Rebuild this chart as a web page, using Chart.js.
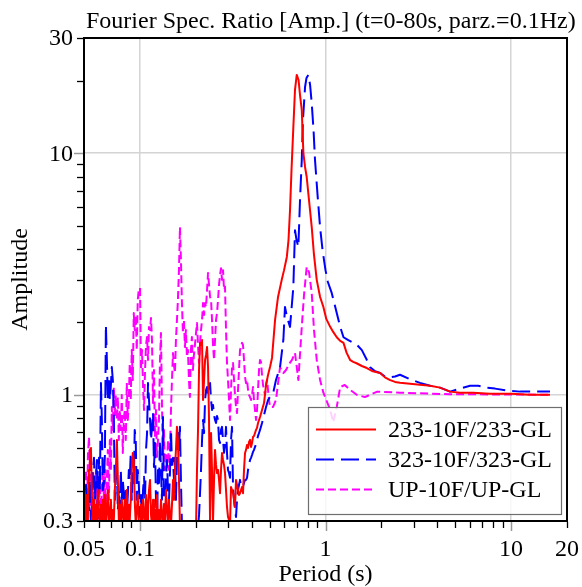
<!DOCTYPE html>
<html><head><meta charset="utf-8">
<script src="https://cdn.jsdelivr.net/npm/chart.js@4/dist/chart.umd.min.js"></script>
<style>html,body{margin:0;padding:0;background:#fff;overflow:hidden}canvas{display:block}</style>
</head><body>
<canvas id="c" width="582" height="587"></canvas>
<script>
// ---- data (period [s], amplitude ratio) ----
const chartTitle = 'Fourier Spec. Ratio [Amp.] (t=0-80s, parz.=0.1Hz)';
const xAxisTitle = 'Period (s)';
const yAxisTitle = 'Amplitude';
const seriesNames = ['233-10F/233-GL', '323-10F/323-GL', 'UP-10F/UP-GL'];
const xTickLabels = [0.05, 0.1, 1, 10, 20];
const yTickLabels = [0.3, 1, 10, 30];
const xMajor = [0.1, 1, 10];
const yMajor = [1, 10];
const xMinor = [0.05,0.06,0.07,0.08,0.09,0.2,0.3,0.4,0.5,0.6,0.7,0.8,0.9,2,3,4,5,6,7,8,9,20];
const yMinor = [0.3,0.4,0.5,0.6,0.7,0.8,0.9,2,3,4,5,6,7,8,9,20,30];

const ratio233 = [
[0.0500,0.333],[0.0506,0.289],[0.0513,0.384],[0.0519,0.303],[0.0525,0.367],[0.0532,0.488],[0.0538,0.591],[0.0545,0.602],[0.0552,0.367],[0.0559,0.289],
[0.0566,0.367],[0.0573,0.303],[0.0580,0.350],[0.0587,0.289],[0.0594,0.403],[0.0602,0.318],[0.0609,0.289],[0.0617,0.350],[0.0624,0.303],[0.0632,0.367],
[0.0640,0.289],[0.0648,0.384],[0.0656,0.289],[0.0664,0.333],[0.0672,0.403],[0.0681,0.289],[0.0689,0.318],[0.0698,0.367],[0.0706,0.289],[0.0715,0.333],
[0.0724,0.303],[0.0733,0.403],[0.0742,0.488],[0.0752,0.650],[0.0761,0.444],[0.0770,0.303],[0.0780,0.350],[0.0789,0.289],[0.0799,0.367],[0.0809,0.318],
[0.0819,0.289],[0.0829,0.367],[0.0840,0.303],[0.0850,0.403],[0.0861,0.289],[0.0872,0.350],[0.0882,0.303],[0.0893,0.367],[0.0904,0.488],[0.0916,0.574],
[0.0927,0.537],[0.0938,0.367],[0.0950,0.289],[0.0962,0.333],[0.0974,0.384],[0.0986,0.303],[0.1002,0.289],[0.1014,0.350],[0.1027,0.289],[0.1040,0.367],
[0.1053,0.318],[0.1066,0.289],[0.1079,0.384],[0.1093,0.303],[0.1106,0.350],[0.1120,0.403],[0.1134,0.444],[0.1148,0.318],[0.1162,0.289],[0.1177,0.367],
[0.1191,0.303],[0.1206,0.333],[0.1221,0.289],[0.1236,0.384],[0.1252,0.303],[0.1267,0.333],[0.1283,0.289],[0.1299,0.367],[0.1315,0.318],[0.1332,0.289],
[0.1348,0.350],[0.1365,0.303],[0.1382,0.403],[0.1400,0.333],[0.1417,0.289],[0.1435,0.367],[0.1452,0.318],[0.1471,0.289],[0.1489,0.350],[0.1508,0.444],
[0.1526,0.367],[0.1545,0.488],[0.1564,0.591],[0.1584,0.736],[0.1603,0.650],[0.1624,0.444],[0.1644,0.289],[0.1664,0.27],
[0.1860,0.25],[0.1980,0.27],[0.2006,0.276],[0.2031,0.488],[0.2057,0.715],[0.2083,1.266],[0.2109,1.64],[0.2135,1.607],[0.2162,1.686],[0.2189,0.951],
[0.2217,1.151],[0.2245,1.393],[0.2272,1.461],[0.2301,1.577],[0.2329,1.303],[0.2358,0.786],[0.2388,0.294],[0.2418,0.694],[0.2447,0.488],[0.2478,0.303],
[0.2509,0.444],[0.2540,0.591],[0.2572,0.512],[0.2604,0.474],[0.2636,0.488],[0.2669,0.444],[0.2702,0.391],[0.2736,0.488],[0.2770,0.574],[0.2805,0.537],
[0.2840,0.512],[0.2875,0.474],[0.2911,0.403],[0.2947,0.343],[0.2984,0.312],[0.3021,0.303],[0.3059,0.289],[0.3097,0.415],[0.3136,0.403],[0.3175,0.391],
[0.3215,0.367],[0.3255,0.343],[0.3296,0.444],[0.3337,0.423],[0.3378,0.403],[0.3420,0.384],[0.3463,0.391],[0.3506,0.403],[0.3550,0.415],[0.3594,0.391],
[0.3639,0.488],[0.3685,0.574],[0.3731,0.591],[0.3778,0.619],[0.3825,0.602],[0.3873,0.638],[0.3921,0.650],[0.3970,0.608],[0.4019,0.631],[0.4069,0.668],
[0.4120,0.675],[0.4171,0.694],[0.4224,0.715],[0.4276,0.729],[0.4330,0.764],[0.4384,0.786],[0.4439,0.809],[0.4550,0.865],[0.4665,0.924],[0.4782,1.097],
[0.4902,1.207],[0.5025,1.303],[0.515,1.42],[0.535,2.04],[0.555,2.54],[0.581,2.99],[0.598,3.28],[0.619,3.72],[0.632,4.37],[0.644,5.82],
[0.656,8.53],[0.671,12.8],[0.685,18.3],[0.700,21.1],[0.716,20.1],[0.729,17.4],[0.745,15.1],[0.760,10.0],[0.776,8.77],[0.792,7.97],
[0.815,6.40],[0.843,4.94],[0.867,3.79],[0.897,2.99],[0.935,2.54],[0.974,2.31],[1.01,2.06],[1.06,1.91],[1.10,1.82],[1.15,1.73],
[1.20,1.67],[1.25,1.64],[1.30,1.49],[1.36,1.39],[1.41,1.367],[1.47,1.35],[1.57,1.315],[1.67,1.29],[1.80,1.25],[1.97,1.23],
[2.09,1.18],[2.23,1.15],[2.37,1.13],[2.52,1.12],[2.85,1.11],[3.23,1.10],[3.66,1.09],[4.14,1.07],[4.41,1.05],[4.69,1.03],
[5.31,1.02],[6.24,1.02],[7.70,1.01],[10.0,1.01],[12.6,1.0],[16.2,1.0]
];

const ratio323 = [
[0.0500,0.367],[0.0506,0.303],[0.0513,0.423],[0.0519,0.289],[0.0525,0.384],[0.0532,0.333],[0.0538,0.444],[0.0545,0.289],[0.0552,0.367],[0.0559,0.488],
[0.0566,0.548],[0.0573,0.367],[0.0580,0.444],[0.0587,0.537],[0.0594,0.303],[0.0602,0.548],[0.0609,0.403],[0.0617,1.118],[0.0624,0.786],[0.0632,0.403],
[0.0640,0.431],[0.0648,0.563],[0.0656,1.945],[0.0664,1.393],[0.0672,0.951],[0.0681,1.184],[0.0689,0.951],[0.0698,1.097],[0.0706,1.303],[0.0715,1.151],
[0.0724,0.809],[0.0733,0.367],[0.0742,0.444],[0.0752,0.474],[0.0761,0.333],[0.0770,0.403],[0.0780,0.343],[0.0789,0.488],[0.0799,0.367],[0.0809,0.444],
[0.0819,0.391],[0.0829,0.303],[0.0840,0.403],[0.0850,0.324],[0.0861,0.384],[0.0872,0.488],[0.0882,0.444],[0.0893,0.574],[0.0904,0.367],[0.0916,0.488],
[0.0927,0.431],[0.0938,0.715],[0.0950,0.650],[0.0962,0.367],[0.0974,0.488],[0.0986,0.431],[0.1002,0.312],[0.1014,0.384],[0.1027,0.303],[0.1040,0.403],
[0.1053,0.457],[0.1066,0.367],[0.1079,0.591],[0.1093,0.694],[0.1106,1.118],[0.1120,0.951],[0.1134,0.786],[0.1148,0.650],[0.1162,0.736],[0.1177,0.841],
[0.1191,0.502],[0.1206,0.631],[0.1221,0.367],[0.1236,0.289],[0.1252,0.488],[0.1267,0.431],[0.1283,0.650],[0.1299,0.488],[0.1315,0.367],[0.1332,0.809],
[0.1348,0.367],[0.1365,0.289],[0.1382,0.444],[0.1400,0.537],[0.1417,0.403],[0.1435,0.367],[0.1452,0.474],[0.1471,0.715],[0.1489,0.512],[0.1508,0.548],
[0.1526,0.444],[0.1545,0.548],[0.1564,0.367],[0.1584,0.537],[0.1603,0.715],[0.1624,0.591],[0.1644,0.736],[0.1664,0.444],[0.1685,0.289],[0.1706,0.27],
[0.1860,0.25],[0.2031,0.27],[0.2057,0.28],[0.2083,0.318],[0.2109,0.391],[0.2135,0.488],[0.2162,0.650],[0.2189,0.786],[0.2217,0.694],[0.2245,0.951],
[0.2272,1.046],[0.2301,1.076],[0.2329,0.997],[0.2358,1.046],[0.2388,1.118],[0.2418,0.951],[0.2447,0.865],[0.2478,0.907],[0.2509,0.825],[0.2540,0.786],
[0.2572,0.764],[0.2604,0.817],[0.2636,0.786],[0.2669,0.650],[0.2702,0.631],[0.2736,0.715],[0.2770,0.736],[0.2805,0.650],[0.2840,0.574],[0.2875,0.619],
[0.2911,0.736],[0.2947,0.574],[0.2984,0.488],[0.3021,0.474],[0.3059,0.453],[0.3097,0.650],[0.3136,0.736],[0.3175,0.415],[0.3215,0.367],[0.3255,0.333],
[0.3296,0.312],[0.3337,0.367],[0.3378,0.403],[0.3420,0.423],[0.3463,0.444],[0.3506,0.423],[0.3550,0.415],[0.3594,0.415],[0.3639,0.431],[0.3685,0.444],
[0.3731,0.444],[0.3778,0.453],[0.3825,0.488],[0.3873,0.512],[0.3921,0.537],[0.3970,0.548],[0.4019,0.563],[0.4069,0.580],[0.4120,0.591],[0.4171,0.608],
[0.4224,0.625],[0.4276,0.650],[0.4330,0.675],[0.4384,0.694],[0.4439,0.715],[0.4550,0.764],[0.4665,0.825],[0.4782,0.890],[0.4902,0.951],[0.5025,0.978],
[0.523,1.02],[0.541,1.151],[0.569,1.30],[0.593,1.69],[0.605,2.31],[0.621,2.09],[0.644,1.91],[0.671,2.79],[0.685,4.80],[0.698,4.37],
[0.714,4.09],[0.729,6.40],[0.745,9.38],[0.756,13.7],[0.776,18.8],[0.790,20.5],[0.808,21.1],[0.826,19.2],[0.843,16.1],[0.862,12.5],
[0.878,9.38],[0.906,6.72],[0.935,4.94],[0.964,3.97],[1.0,3.28],[1.03,2.93],[1.08,2.64],[1.14,2.24],[1.20,1.91],[1.25,1.73],
[1.32,1.686],[1.41,1.64],[1.48,1.607],[1.57,1.53],[1.65,1.42],[1.74,1.30],[1.85,1.25],[1.97,1.23],[2.09,1.19],[2.23,1.18],
[2.37,1.19],[2.52,1.21],[2.85,1.16],[3.23,1.12],[3.66,1.09],[4.14,1.07],[4.69,1.03],[5.31,1.06],[6.01,1.09],[6.64,1.09],
[7.39,1.07],[8.19,1.06],[9.47,1.04],[11.2,1.03],[13.5,1.03],[16.2,1.03]
];

const ratioUP = [
[0.0500,0.444],[0.0506,0.333],[0.0513,0.488],[0.0519,0.303],[0.0525,0.563],[0.0532,0.668],[0.0538,0.488],[0.0545,0.289],[0.0552,0.367],[0.0559,0.444],
[0.0566,0.303],[0.0573,0.403],[0.0580,0.488],[0.0587,0.289],[0.0594,0.384],[0.0602,0.350],[0.0609,0.444],[0.0617,0.289],[0.0624,0.403],[0.0632,0.537],
[0.0640,0.367],[0.0648,0.488],[0.0656,0.289],[0.0664,0.444],[0.0672,0.591],[0.0681,0.367],[0.0689,0.650],[0.0698,0.488],[0.0706,0.890],[0.0715,0.715],
[0.0724,1.076],[0.0733,0.825],[0.0742,0.997],[0.0752,0.786],[0.0761,0.978],[0.0770,0.650],[0.0780,0.865],[0.0789,0.715],[0.0799,0.997],[0.0809,0.574],
[0.0819,0.786],[0.0829,0.865],[0.0840,0.650],[0.0850,1.118],[0.0861,0.786],[0.0872,0.951],[0.0882,1.354],[0.0893,0.951],[0.0904,1.532],[0.0916,1.151],
[0.0927,2.18],[0.0938,1.854],[0.0950,2.14],[0.0962,1.532],[0.0974,2.47],[0.0986,2.72],[0.1002,2.77],[0.1014,1.266],[0.1027,1.532],[0.1040,1.076],
[0.1053,0.865],[0.1066,1.266],[0.1079,1.607],[0.1093,1.735],[0.1106,1.393],[0.1120,1.908],[0.1134,1.854],[0.1148,2.08],[0.1162,1.686],[0.1177,0.924],
[0.1191,1.266],[0.1206,0.668],[0.1221,0.865],[0.1236,0.553],[0.1252,0.650],[0.1267,0.786],[0.1283,1.393],[0.1299,1.80],[0.1315,0.924],[0.1332,0.553],
[0.1348,0.715],[0.1365,0.488],[0.1382,0.563],[0.1400,0.502],[0.1417,0.650],[0.1435,0.488],[0.1452,0.574],[0.1471,0.865],[0.1489,1.151],[0.1508,1.489],
[0.1526,1.328],[0.1545,1.230],[0.1564,1.686],[0.1584,2.04],[0.1603,2.47],[0.1624,3.28],[0.1644,4.94],[0.1664,3.61],[0.1685,2.40],[0.1706,1.80],
[0.1727,2.04],[0.1749,1.577],[0.1770,1.854],[0.1793,1.434],[0.1815,1.532],[0.1838,1.151],[0.1860,0.978],[0.1884,1.532],[0.1907,1.735],[0.1931,1.266],
[0.1955,1.461],[0.1980,1.607],[0.2006,1.80],[0.2031,1.98],[0.2057,1.607],[0.2083,1.354],[0.2109,1.64],[0.2135,1.854],[0.2162,2.04],[0.2189,2.40],
[0.2217,2.14],[0.2245,2.40],[0.2272,2.31],[0.2301,2.72],[0.2329,3.19],[0.2358,2.85],[0.2388,2.54],[0.2418,2.47],[0.2447,2.04],[0.2478,1.607],
[0.2509,1.393],[0.2540,1.686],[0.2572,2.04],[0.2604,2.18],[0.2636,2.47],[0.2669,2.85],[0.2702,3.13],[0.2736,3.34],[0.2770,2.99],[0.2805,3.28],
[0.2840,2.72],[0.2875,2.80],[0.2911,1.854],[0.2947,1.354],[0.2984,1.151],[0.3021,0.951],[0.3059,0.786],[0.3097,1.046],[0.3136,1.303],[0.3175,1.354],
[0.3215,1.151],[0.3255,0.997],[0.3296,0.890],[0.3337,0.840],[0.3378,1.046],[0.3420,1.266],[0.3463,1.532],[0.3506,1.577],[0.3550,1.64],[0.3594,1.607],
[0.3639,1.393],[0.3685,1.184],[0.3731,1.118],[0.3778,1.151],[0.3825,1.046],[0.3873,0.997],[0.3921,0.978],[0.3970,0.951],[0.4019,0.997],[0.4069,1.076],
[0.4120,0.951],[0.4171,0.865],[0.4224,0.786],[0.4276,0.865],[0.4330,1.046],[0.4384,1.266],[0.4439,1.393],[0.4494,1.367],[0.4550,1.207],[0.4607,1.097],
[0.4665,1.046],[0.4723,0.997],[0.4782,1.097],[0.4842,1.151],[0.4902,1.046],[0.4963,0.951],[0.5025,0.890],[0.522,0.890],[0.541,0.951],[0.569,1.30],
[0.593,1.23],[0.613,1.266],[0.636,1.34],[0.660,1.393],[0.685,1.49],[0.714,1.151],[0.745,1.91],[0.766,2.59],[0.792,3.38],[0.815,3.22],
[0.843,2.64],[0.867,1.854],[0.897,1.393],[0.935,1.151],[0.974,1.02],[1.02,0.933],[1.06,0.865],[1.10,0.77],[1.15,0.89],[1.20,1.076],
[1.27,1.097],[1.36,1.046],[1.48,0.997],[1.63,0.978],[1.90,1.03],[2.52,1.02],[4.69,1.005],[16.2,1.0]
];

// ---- styles ----
const FONT = '"Liberation Serif", "Times New Roman", serif';
const styles = [
  {color: '#ff0000', dash: []},
  {color: '#0000ff', dash: [18, 7]},
  {color: '#ff00ff', dash: [8, 4]}
];

const toXY = arr => arr.map(p => ({x: p[0], y: p[1]}));

function fmt(v) { return String(v); }

const framePlugin = {
  id: 'frame',
  afterDatasetsDraw(chart) {
    const ctx = chart.ctx;
    const a = chart.chartArea;
    const xs = chart.scales.x, ys = chart.scales.y;
    ctx.save();
    // legend box (semi-transparent, over data)
    const lx = 308, ly = 407, lw = 253, lh = 107;
    ctx.fillStyle = 'rgba(255,255,255,0.82)';
    ctx.fillRect(lx, ly, lw, lh);
    ctx.strokeStyle = '#6e6e6e';
    ctx.lineWidth = 1.2;
    ctx.strokeRect(lx + 0.5, ly + 0.5, lw, lh);
    ctx.font = '24px ' + FONT;
    ctx.textBaseline = 'middle';
    ctx.textAlign = 'left';
    seriesNames.forEach((name, i) => {
      const cy = 429.5 + i * 30;
      ctx.beginPath();
      ctx.setLineDash(styles[i].dash);
      ctx.strokeStyle = styles[i].color;
      ctx.lineWidth = 2.2;
      ctx.moveTo(316, cy); ctx.lineTo(376, cy);
      ctx.stroke();
      ctx.setLineDash([]);
      ctx.fillStyle = '#000';
      ctx.fillText(name, 388, cy + 1);
    });
    // frame
    ctx.strokeStyle = '#000';
    ctx.lineWidth = 2;
    ctx.strokeRect(a.left, a.top, a.right - a.left, a.bottom - a.top);
    // ticks
    ctx.lineWidth = 1.3;
    xMinor.forEach(v => {
      const px = Math.round(xs.getPixelForValue(v)) + 0.5;
      ctx.beginPath(); ctx.moveTo(px, a.bottom + 1); ctx.lineTo(px, a.bottom + 7); ctx.stroke();
    });
    yMinor.forEach(v => {
      const py = Math.round(ys.getPixelForValue(v)) + 0.5;
      ctx.beginPath(); ctx.moveTo(a.left - 1, py); ctx.lineTo(a.left - 7, py); ctx.stroke();
    });
    ctx.strokeStyle = '#999';
    ctx.lineWidth = 1.5;
    xMajor.forEach(v => {
      const px = Math.round(xs.getPixelForValue(v)) + 0.5;
      ctx.beginPath(); ctx.moveTo(px, a.bottom + 1); ctx.lineTo(px, a.bottom + 10); ctx.stroke();
    });
    yMajor.forEach(v => {
      const py = Math.round(ys.getPixelForValue(v)) + 0.5;
      ctx.beginPath(); ctx.moveTo(a.left - 1, py); ctx.lineTo(a.left - 10, py); ctx.stroke();
    });
    // tick labels
    ctx.fillStyle = '#000';
    ctx.font = '24px ' + FONT;
    ctx.textAlign = 'center';
    ctx.textBaseline = 'alphabetic';
    xTickLabels.forEach(v => {
      ctx.fillText(fmt(v), xs.getPixelForValue(v), 556);
    });
    ctx.textAlign = 'right';
    ctx.textBaseline = 'middle';
    yTickLabels.forEach(v => {
      ctx.fillText(fmt(v), 73, ys.getPixelForValue(v) + 1);
    });
    // titles
    ctx.textAlign = 'left';
    ctx.textBaseline = 'alphabetic';
    ctx.fillText(chartTitle, 86, 28);
    ctx.textAlign = 'center';
    ctx.fillText(xAxisTitle, (a.left + a.right) / 2, 581);
    ctx.save();
    ctx.translate(27, (a.top + a.bottom) / 2);
    ctx.rotate(-Math.PI / 2);
    ctx.textBaseline = 'alphabetic';
    ctx.fillText(yAxisTitle, 0, 0);
    ctx.restore();
    ctx.restore();
  }
};

const series = [ratio233, ratio323, ratioUP];
const datasets = series.map((arr, i) => ({
  label: seriesNames[i],
  data: toXY(arr),
  showLine: true,
  borderColor: styles[i].color,
  backgroundColor: styles[i].color,
  borderWidth: 2,
  borderDash: styles[i].dash,
  borderJoinStyle: 'round',
  pointRadius: 0,
  tension: 0,
  order: i + 1
}));

new Chart(document.getElementById('c').getContext('2d'), {
  type: 'scatter',
  data: {datasets},
  options: {
    responsive: false,
    animation: false,
    devicePixelRatio: 1,
    layout: {padding: {top: 38, right: 15, left: 0, bottom: 0}},
    plugins: {legend: {display: false}, title: {display: false}, tooltip: {enabled: false}},
    scales: {
      x: {
        type: 'logarithmic', min: 0.05, max: 20,
        afterBuildTicks(s) { s.ticks = xMajor.map(v => ({value: v})); },
        afterFit(s) { s.height = 66; },
        ticks: {display: false},
        grid: {color: '#d4d4d4', lineWidth: 1.5, drawTicks: false},
        border: {display: false}
      },
      y: {
        type: 'logarithmic', min: 0.3, max: 30,
        afterBuildTicks(s) { s.ticks = yMajor.map(v => ({value: v})); },
        afterFit(s) { s.width = 84; },
        ticks: {display: false},
        grid: {color: '#d4d4d4', lineWidth: 1.5, drawTicks: false},
        border: {display: false}
      }
    }
  },
  plugins: [framePlugin]
});
</script>
</body></html>
